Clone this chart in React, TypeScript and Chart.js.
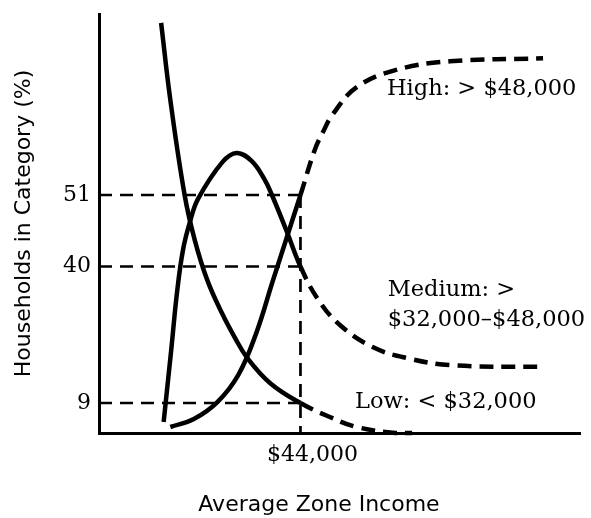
import React, { useEffect, useRef } from 'react';
import { Chart, registerables, LinearScale } from 'chart.js';

// ---- axis set-up ----
const INCOME_MIN = 20000;
const INCOME_MAX = 77300;
const BREAK_INCOME = 44000;
const X_TICKS = [44000];
const X_TICK_LABELS = ['$44,000'];
const Y_TICKS = [9, 40, 51];
const GUIDE_LEVELS = [9, 40, 51];
const X_TITLE = 'Average Zone Income';
const Y_TITLE = 'Households in Category (%)';

// schematic (not-to-scale) vertical axis: value break points and where they sit on the axis
const Y_BREAK_VALUES = [0, 9, 40, 51, 100];
const Y_BREAK_FRACTIONS = [0, 0.0716, 0.3974, 0.568, 1];

// ---- series (income $, share of households %) ----
const lowIncome = [27400, 28500, 30200, 31400, 32900, 34700, 36200, 37600, 40400, 44000, 47500, 50700, 55300, 57300];
const lowShare = [97.6, 76.7, 51, 44.1, 36.9, 29.2, 23.8, 19.4, 13.5, 9, 4.8, 1.8, 0, 0];

const medIncome = [27700, 28600, 29300, 30000, 30800, 31800, 34700, 36400, 38200, 39700, 40600, 42400, 44000, 46000, 48700, 52600, 56700, 61800, 72900];
const medShare = [3.3, 21.0, 34.2, 42.5, 46.7, 50.4, 59.9, 62.4, 60.2, 55.3, 51, 45.3, 40, 32.8, 26.7, 21.7, 19.2, 17.6, 17.2];

const highIncome = [28500, 31300, 34100, 36600, 38700, 40700, 44000, 45700, 46700, 47800, 50700, 55300, 61800, 72900];
const highShare = [1.8, 4.2, 9.2, 15.4, 24.7, 36.7, 51, 63.2, 68.1, 72.7, 80.2, 84.8, 87.2, 88.0];

const annotations = [
  { text: 'High: > $48,000', income: 54300, share: 79.7 },
  { text: 'Medium: >', income: 54400, share: 34.7 },
  { text: '$32,000\u2013$48,000', income: 54400, share: 27.8 },
  { text: 'Low: < $32,000', income: 50500, share: 9.1 },
];

function valueToFraction(v: number): number {
  const vs = Y_BREAK_VALUES, fs = Y_BREAK_FRACTIONS;
  for (let i = 1; i < vs.length; i++) {
    if (v <= vs[i] || i === vs.length - 1) {
      const t = (v - vs[i - 1]) / (vs[i] - vs[i - 1]);
      return fs[i - 1] + t * (fs[i] - fs[i - 1]);
    }
  }
  return 0;
}
function fractionToValue(f: number): number {
  const vs = Y_BREAK_VALUES, fs = Y_BREAK_FRACTIONS;
  for (let i = 1; i < fs.length; i++) {
    if (f <= fs[i] || i === fs.length - 1) {
      const t = (f - fs[i - 1]) / (fs[i] - fs[i - 1]);
      return vs[i - 1] + t * (vs[i] - vs[i - 1]);
    }
  }
  return 0;
}

class BrokenScale extends LinearScale {
  static id = 'broken';
  static defaults = {};
  getPixelForValue(value: any) {
    if (value === null || value === undefined || isNaN(value)) return NaN;
    return (this as any).getPixelForDecimal(valueToFraction(value));
  }
  getValueForPixel(pixel: number) {
    return fractionToValue((this as any).getDecimalForPixel(pixel));
  }
}

Chart.register(...registerables, BrokenScale as any);

const toPoints = (xs: number[], ys: number[]) => xs.map((x, i) => ({ x, y: ys[i] }));

const labelPlugin = {
  id: 'zoneLabels',
  afterDatasetsDraw(chart: any) {
    const { ctx } = chart;
    const x = chart.scales.x;
    const y = chart.scales.y;
    ctx.save();
    ctx.fillStyle = '#000';
    ctx.textBaseline = 'middle';
    ctx.textAlign = 'left';
    ctx.font = '22.5px "DejaVu Serif"';
    for (const a of annotations) {
      ctx.fillText(a.text, x.getPixelForValue(a.income), y.getPixelForValue(a.share));
    }
    ctx.font = '22px "DejaVu Sans"';
    ctx.textAlign = 'center';
    ctx.fillText(X_TITLE, (x.left + x.right) / 2 - 20.5, x.bottom - 13);
    ctx.restore();
  },
};

export default function App() {
  const ref = useRef<HTMLCanvasElement | null>(null);

  useEffect(() => {
    if (!ref.current) return;
    const curve = (xs: number[], ys: number[]) => ({
      data: toPoints(xs, ys),
      borderColor: '#000',
      borderWidth: 4.5,
      pointRadius: 0,
      tension: 0.4,
      borderJoinStyle: 'round' as const,
      clip: false as any,
      segment: {
        borderDash: (c: any) => (c.p0.parsed.x >= BREAK_INCOME - 1 ? [14, 8] : undefined),
      },
    });
    const guide = (pts: { x: number; y: number }[]) => ({
      data: pts,
      borderColor: '#000',
      borderWidth: 2.7,
      borderDash: [13, 8],
      pointRadius: 0,
      tension: 0,
      clip: false as any,
    });
    const topLevel = Math.max(...GUIDE_LEVELS);
    const datasets: any[] = [
      curve(lowIncome, lowShare),
      curve(medIncome, medShare),
      curve(highIncome, highShare),
      ...GUIDE_LEVELS.map((lv) => guide([{ x: INCOME_MIN, y: lv }, { x: BREAK_INCOME, y: lv }])),
      guide([{ x: BREAK_INCOME, y: topLevel }, { x: BREAK_INCOME, y: 0 }]),
    ];

    const chart = new Chart(ref.current, {
      type: 'line',
      data: { datasets },
      options: {
        animation: false,
        responsive: false,
        devicePixelRatio: 1,
        layout: { padding: { top: 14, right: 11, left: 0, bottom: 0 } },
        plugins: { legend: { display: false }, tooltip: { enabled: false } },
        scales: {
          x: {
            type: 'linear',
            min: INCOME_MIN,
            max: INCOME_MAX,
            bounds: 'data',
            afterBuildTicks: (s: any) => { s.ticks = X_TICKS.map((v) => ({ value: v })); },
            afterFit: (s: any) => { s.height = 85; s.paddingLeft = 0; s.paddingRight = 0; },
            grid: { display: false, drawTicks: false },
            border: { display: true, color: '#000', width: 3 },
            ticks: {
              color: '#000',
              padding: 9,
              labelOffset: 12,
              maxRotation: 0,
              autoSkip: false,
              font: { family: 'DejaVu Serif', size: 22 },
              callback: (_v: any, i: number) => X_TICK_LABELS[i],
            },
          },
          y: {
            type: 'broken' as any,
            min: 0,
            max: 100,
            bounds: 'data',
            afterBuildTicks: (s: any) => { s.ticks = Y_TICKS.map((v) => ({ value: v })); },
            afterFit: (s: any) => { s.width = 99; s.paddingTop = 0; s.paddingBottom = 0; },
            grid: { display: false, drawTicks: false },
            border: { display: true, color: '#000', width: 3 },
            ticks: {
              color: '#000',
              padding: 8,
              autoSkip: false,
              font: { family: 'DejaVu Serif', size: 22 },
              callback: (v: any) => String(v),
            },
            title: {
              display: true,
              text: Y_TITLE,
              color: '#000',
              font: { family: 'DejaVu Sans', size: 22 },
              padding: { top: 11, bottom: 0 },
            },
          } as any,
        },
      },
      plugins: [labelPlugin],
    } as any);

    return () => chart.destroy();
  }, []);

  return (
    <div style={{ position: 'absolute', left: 0, top: 0, width: 591, height: 518, background: '#fff' }}>
      <canvas ref={ref} width={591} height={518} style={{ display: 'block' }} />
    </div>
  );
}
